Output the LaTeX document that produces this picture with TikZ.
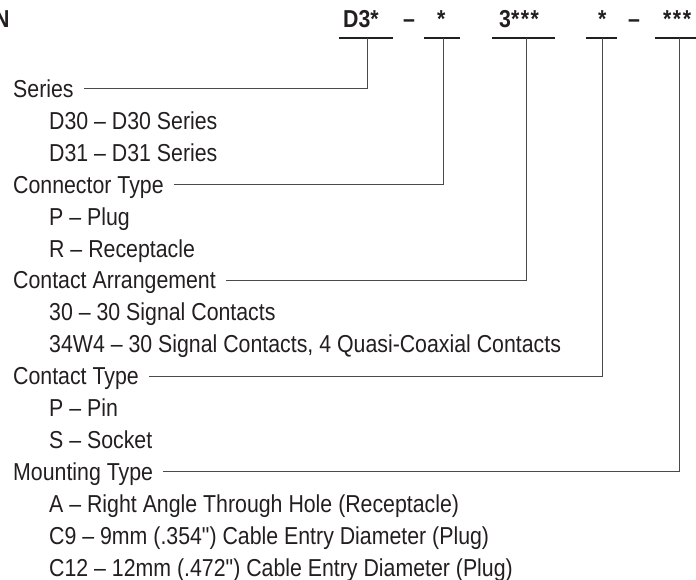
\documentclass[tikz,border=0pt]{standalone}
\usepackage{fontspec}
\setmainfont[FakeStretch=0.87]{Liberation Sans}
\newfontfamily\plainq[FakeStretch=0.87]{Liberation Sans}
\newcommand{\sq}{{\plainq"}}
\definecolor{txt}{HTML}{231F20}
\definecolor{linec}{HTML}{4A4A4A}
\begin{document}
\begin{tikzpicture}[x=1pt,y=-1pt,
  lbl/.style={anchor=base west, inner sep=0pt, font=\fontsize{24.5}{28}\selectfont, text=txt},
  hdr/.style={anchor=base west, inner sep=0pt, font=\fontsize{24.5}{28}\selectfont\bfseries, text=txt},
  uline/.style={line width=2.5pt, draw=txt},
  leader/.style={line width=1pt, draw=linec}]
\useasboundingbox (0,0) rectangle (696,580);
\clip (0,0) rectangle (696,580);
% header
\node[hdr] (title) at (-6,28) {N};
\node[hdr] (h1) at (343,28) {D3*};
\node[hdr] (d1) at (403,28) {–};
\node[hdr] (h2) at (437,28) {*};
\node[hdr] (h3) at (499,28) {3*\kern1.5pt*\kern1.5pt*};
\node[hdr] (h4) at (598,28) {*};
\node[hdr] (d2) at (628,28) {–};
\node[hdr] (h5) at (663,28) {*\kern1.5pt*\kern1.5pt*};
% underlines
\coordinate (u1a) at (339,38); \coordinate (u1b) at (393,38); \coordinate (v1) at (367,38);
\coordinate (u2a) at (424,38); \coordinate (u2b) at (460,38); \coordinate (v2) at (443,38);
\coordinate (u3a) at (492,38); \coordinate (u3b) at (555,38); \coordinate (v3) at (526,38);
\coordinate (u4a) at (586,38); \coordinate (u4b) at (617,38); \coordinate (v4) at (602,38);
\coordinate (u5a) at (655,38); \coordinate (u5b) at (700,38); \coordinate (v5) at (679,38);
\foreach \i in {1,...,5} {\draw[uline] (u\i a) -- (u\i b);}
% labels
\node[lbl] (series) at (13,97.5) {Series};
\node[lbl] (s1) at (49,129.4) {D30 – D30 Series};
\node[lbl] (s2) at (49,161.3) {D31 – D31 Series};
\node[lbl] (conn) at (13,193.2) {Connector Type};
\node[lbl] (c1) at (49,225.1) {P – Plug};
\node[lbl] (c2) at (49,257) {R – Receptacle};
\node[lbl] (arr) at (13,288.9) {Contact Arrangement};
\node[lbl] (a1) at (49,320.8) {30 – 30 Signal Contacts};
\node[lbl] (a2) at (49,352.7) {34W4 – 30 Signal Contacts, 4 Quasi-Coaxial Contacts};
\node[lbl] (ctype) at (13,384.6) {Contact Type};
\node[lbl] (t1) at (49,416.5) {P – Pin};
\node[lbl] (t2) at (49,448.4) {S – Socket};
\node[lbl] (mount) at (13,480.3) {Mounting Type};
\node[lbl] (m1) at (49,512.2) {A – Right Angle Through Hole (Receptacle)};
\node[lbl] (m2) at (49,544.1) {C9 – 9mm (.354\sq) Cable Entry Diameter (Plug)};
\node[lbl] (m3) at (49,576) {C12 – 12mm (.472\sq) Cable Entry Diameter (Plug)};
% leaders
\draw[leader] (v1) |- ([shift={(10,-8.5)}]series.base east);
\draw[leader] (v2) |- ([shift={(10,-8.5)}]conn.base east);
\draw[leader] (v3) |- ([shift={(10,-8.5)}]arr.base east);
\draw[leader] (v4) |- ([shift={(10,-8.5)}]ctype.base east);
\draw[leader] (v5) |- ([shift={(10,-8.5)}]mount.base east);
\end{tikzpicture}
\end{document}
